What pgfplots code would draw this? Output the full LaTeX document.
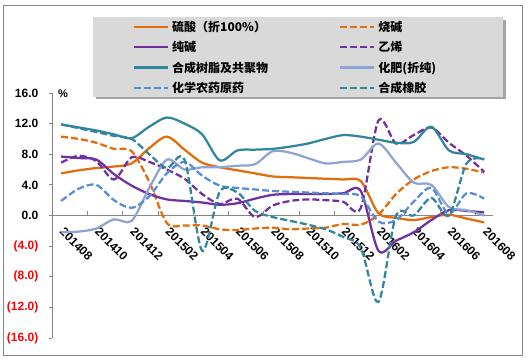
\documentclass[border=0pt]{standalone}
\usepackage{fontspec}
\setmainfont{Liberation Sans}
\newfontfamily\cjk{Noto Sans CJK SC}
\usepackage{pgfplots}
\pgfplotsset{compat=1.18}
\definecolor{cOr}{RGB}{228,108,10}
\definecolor{cPu}{RGB}{112,48,160}
\definecolor{cTe}{RGB}{49,133,156}
\definecolor{cLb}{RGB}{142,164,210}
\definecolor{cBl}{RGB}{85,142,213}
\definecolor{axgray}{RGB}{134,134,134}
\definecolor{legfill}{RGB}{217,217,217}
\definecolor{legshadow}{RGB}{165,165,165}
\begin{document}
\begin{tikzpicture}
\useasboundingbox (0bp,0bp) rectangle (528bp,360bp);
\draw[axgray, line width=0.8bp] (3bp,5bp) rectangle (522bp,355bp);
\fill[legshadow] (96bp,261bp) rectangle (506bp,340bp);
\fill[legfill] (93bp,263bp) rectangle (503bp,343bp);
\node[font=\bfseries\fontsize{11bp}{13bp}\selectfont] at (63bp,266bp) {\%};
\begin{axis}[
  at={(52.3bp,22bp)}, anchor=south west, scale only axis,
  width=440.7bp, height=245bp,
  xmin=-0.5, xmax=24.5, ymin=-16, ymax=16,
  axis x line=middle, axis y line=left,
  axis line style={draw=axgray, line width=0.75bp, -},
  hide obscured x ticks=false, hide obscured y ticks=false,
  xtick={0,2,...,24},
  xticklabels={201408,201410,201412,201502,201504,201506,201508,201510,201512,201602,201604,201606,201608},
  xtick style={draw=none},
  xticklabel style={xshift=4bp, yshift=-3bp, rotate=-45, anchor=north west, font=\bfseries\fontsize{12bp}{14bp}\selectfont},
  ytick={-16,-12,-8,-4,0,4,8,12,16},
  yticklabels={{\color{red}(16.0)},{\color{red}(12.0)},{\color{red}(8.0)},{\color{red}(4.0)},0.0,4.0,8.0,12.0,16.0},
  yticklabel style={xshift=-7bp, font=\bfseries\fontsize{12bp}{14bp}\selectfont},
  ytick style={draw=axgray, line width=0.75bp},
  tick align=outside, major tick length=3.5bp,
  no markers,
  every axis plot/.append style={line width=2.25bp, smooth, tension=0.5},
  legend columns=2,
  legend image code/.code={\draw[#1] (0bp,0bp) -- (34bp,0bp);},
  legend style={at={(0.1831,1.3108)}, anchor=north west, draw=none, fill=none,
    inner sep=0pt, outer sep=0pt, row sep=0pt,
    font=\cjk\bfseries\fontsize{12bp}{14bp}\selectfont,
    nodes={inner sep=0pt, minimum height=20.3bp, anchor=west},
    /tikz/every odd column/.append style={column sep=3bp},
    /tikz/every even column/.append style={column sep=71bp}},
  legend cell align=left,
]
\addplot[cOr] coordinates {(0,5.5)(1,5.9)(2,6.2)(3,6.4)(4,6.8)(5,8.8)(6,10.3)(7,8.6)(8,6.9)(9,6.3)(10,5.9)(11,5.5)(12,5.1)(13,5.0)(14,4.9)(15,4.8)(16,4.7)(17,4.5)(18,0.3)(19,-0.3)(20,-0.6)(21,-0.2)(22,0.1)(23,-0.4)(24,-0.9)};
\addlegendentry{硫酸（折100\%）}
\addplot[cOr, dash pattern=on 7bp off 3bp] coordinates {(0,10.3)(1,10.0)(2,9.5)(3,8.7)(4,8.4)(5,4.4)(6,-1.0)(7,-1.3)(8,-1.3)(9,-1.8)(10,-1.9)(11,-1.7)(12,-1.6)(13,-1.8)(14,-1.7)(15,-1.6)(16,-1.1)(17,-1.2)(18,0.1)(19,2.8)(20,4.7)(21,5.8)(22,6.3)(23,6.1)(24,5.6)};
\addlegendentry{烧碱}
\addplot[cPu] coordinates {(0,7.7)(1,7.5)(2,7.3)(3,5.4)(4,3.9)(5,2.8)(6,2.1)(7,1.9)(8,1.7)(9,1.4)(10,1.6)(11,2.2)(12,2.7)(13,2.8)(14,2.8)(15,2.8)(16,2.9)(17,3.2)(18,-4.6)(19,-3.3)(20,-2.2)(21,-0.6)(22,0.7)(23,0.6)(24,0.4)};
\addlegendentry{纯碱}
\addplot[cPu, dash pattern=on 7bp off 3bp] coordinates {(0,6.9)(1,7.8)(2,7.1)(3,4.7)(4,7.6)(5,7.0)(6,6.0)(7,4.8)(8,2.8)(9,1.5)(10,2.2)(11,-0.2)(12,1.3)(13,1.9)(14,2.1)(15,2.0)(16,1.8)(17,1.0)(18,12.4)(19,9.4)(20,10.5)(21,11.5)(22,9.5)(23,7.8)(24,5.7)};
\addlegendentry{乙烯}
\addplot[cTe] coordinates {(0,11.9)(1,11.5)(2,11.1)(3,10.6)(4,10.1)(5,11.6)(6,12.8)(7,12.0)(8,10.6)(9,7.2)(10,8.5)(11,8.6)(12,8.7)(13,9.0)(14,9.4)(15,10.0)(16,10.5)(17,10.3)(18,9.9)(19,9.5)(20,9.6)(21,11.6)(22,8.5)(23,8.0)(24,7.3)};
\addlegendentry{合成树脂及共聚物}
\addplot[cLb] coordinates {(0,-2.2)(1,-2.1)(2,-1.7)(3,-0.5)(4,-0.7)(5,3.6)(6,7.3)(7,6.0)(8,6.3)(9,6.3)(10,6.5)(11,6.7)(12,8.4)(13,8.2)(14,7.5)(15,6.8)(16,7.0)(17,7.3)(18,9.4)(19,6.9)(20,4.3)(21,4.0)(22,1.1)(23,0.7)(24,0.0)};
\addlegendentry{化肥(折纯)}
\addplot[cBl, dash pattern=on 7bp off 3bp] coordinates {(0,1.9)(1,3.5)(2,4.0)(3,2.0)(4,1.0)(5,2.5)(6,5.5)(7,7.0)(8,5.2)(9,3.9)(10,3.6)(11,3.4)(12,3.2)(13,3.1)(14,3.0)(15,2.9)(16,2.8)(17,2.5)(18,-0.8)(19,-0.6)(20,1.8)(21,3.6)(22,0.2)(23,2.9)(24,2.2)};
\addlegendentry{化学农药原药}
\addplot[cTe, dash pattern=on 7bp off 3bp] coordinates {(0,11.9)(1,11.4)(2,10.9)(3,10.4)(4,10.0)(5,8.0)(6,6.2)(7,7.3)(8,-4.6)(9,3.1)(10,3.0)(11,0.6)(12,-0.2)(13,-0.7)(14,-1.2)(15,-1.8)(16,-2.8)(17,-4.2)(18,-11.3)(19,0.0)(20,0.0)(21,2.3)(22,0.0)(23,6.8)(24,7.4)};
\addlegendentry{合成橡胶}
\pgfplotsinvokeforeach{1.5,3.5,...,23.5}{\draw[axgray, line width=0.75bp] (axis cs:#1,0) -- ++(0bp,4bp);}
\end{axis}
\end{tikzpicture}
\end{document}
